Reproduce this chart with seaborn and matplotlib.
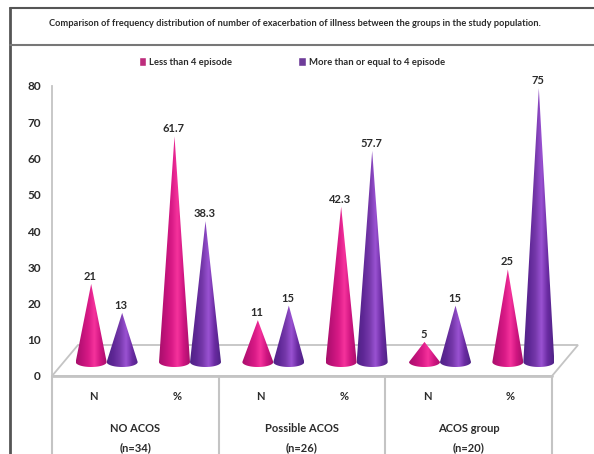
import numpy as np
import pandas as pd
import matplotlib
matplotlib.use('Agg')
import matplotlib.pyplot as plt
import seaborn as sns
from matplotlib.colors import LinearSegmentedColormap
from matplotlib.lines import Line2D
from matplotlib.patches import Polygon

title = 'Comparison of frequency distribution of number of exacerbation of illness between the groups in the study population.'
series_names = ['Less than 4 episode', 'More than or equal to 4 episode']
groups = ['NO ACOS\n(n=34)', 'Possible ACOS\n(n=26)', 'ACOS group\n(n=20)']
measures = ['N', '%', 'N', '%', 'N', '%']
less_than_4 = [21, 61.7, 11, 42.3, 5, 25]
four_or_more = [13, 38.3, 15, 57.7, 15, 75]

sns.set_style('white')
plt.rcParams['font.family'] = ['Lato', 'DejaVu Sans']
plt.rcParams['font.weight'] = 'bold'
text_color = '#2b2b2b'
line_color = '#c4c4c4'
W, H = 594, 454

# long table for seaborn, one row per cone
slots = [f'{i}{m}' for i, m in enumerate(measures)]
df = pd.DataFrame({
    'slot': slots * 2,
    'value': less_than_4 + four_or_more,
    'series': [series_names[0]] * 6 + [series_names[1]] * 6,
})

fig = plt.figure(figsize=(W / 100, H / 100), dpi=100)
ax = fig.add_axes([52 / W, 1 - 376 / H, 500 / W, 290 / H])
ax.patch.set_alpha(0)

sns.barplot(data=df, x='slot', y='value', hue='series', order=slots, hue_order=series_names,
            palette=['#d5147f', '#6f2da8'], width=0.744, gap=0, ax=ax)
ax.set_xlim(-0.5, 5.5)
ax.set_ylim(0, 80)
ax.set_xlabel('')
ax.set_ylabel('')

px_x = 6 / 500   # data units per pixel
px_y = 80 / 290

# floor of the 3d box
depth_x, depth_y = 26 * px_x, 31 * px_y
floor = Polygon([(-0.5, 0), (5.5, 0), (5.5 + depth_x, depth_y), (-0.5 + depth_x, depth_y)],
                facecolor='white', edgecolor=line_color, lw=1.3, clip_on=False, zorder=1)
ax.add_patch(floor)

# dividers under the axis
for x in [-0.5, 1.5, 3.5, 5.5]:
    ax.plot([x, x], [0, -78 * px_y], color=line_color, lw=1.5, clip_on=False, zorder=1)
ax.plot([-0.5, 5.5], [0, 0], color=line_color, lw=2, clip_on=False, zorder=2)

pink = LinearSegmentedColormap.from_list('pink', ['#a80f6c', '#c01279', '#d81a86', '#f5329c', '#cf1580', '#a80f6c'])
purple = LinearSegmentedColormap.from_list('purple', ['#4f2386', '#5f2796', '#7538aa', '#9a52d2', '#6a2ba2', '#4f2386'])
grad = np.linspace(0, 1, 64).reshape(1, -1)

base_dx = 13 * px_x
base_dy = 14 * px_y
semi_minor = 5 * px_y

bars = list(ax.patches)[:12]
cmaps = [pink] * 6 + [purple] * 6
for bar, cmap in sorted(zip(bars, cmaps), key=lambda b: b[0].get_x()):
    bar.set_visible(False)
    x0 = bar.get_x() + base_dx
    w = bar.get_width()
    val = bar.get_height()
    xc = x0 + w / 2
    t = np.linspace(0, np.pi, 40)
    arc = np.column_stack([xc + w / 2 * np.cos(t), base_dy - semi_minor * np.sin(t)])
    cone = Polygon(np.vstack([[xc, base_dy + val + 2 * px_y], arc]), transform=ax.transData,
                   facecolor='none', edgecolor='none')
    ax.add_patch(cone)
    im = ax.imshow(grad, cmap=cmap, aspect='auto', zorder=3,
                   extent=(x0, x0 + w, base_dy - semi_minor, base_dy + val + 2 * px_y))
    im.set_clip_box(fig.bbox)
    im.set_clip_path(cone)
    ax.text(xc - 1 * px_x, base_dy + val + 4 * px_y, f'{val:g}', ha='center', va='bottom',
            fontsize=8, color=text_color, zorder=5)

ax.set_xlim(-0.5, 5.5)
ax.set_ylim(0, 80)
ax.set_yticks(np.arange(0, 81, 10))
ax.set_xticks(range(6))
ax.set_xticklabels(measures)
ax.tick_params(axis='x', length=0, pad=11, labelsize=8, labelcolor=text_color)
ax.tick_params(axis='y', length=0, pad=8, labelsize=8.5, labelcolor=text_color)

sns.despine(ax=ax, bottom=True)
ax.spines['left'].set_color(line_color)
ax.spines['left'].set_linewidth(1.3)

for i, g in enumerate(groups):
    ax.annotate(g, xy=(2 * i + 0.5, 0), xytext=(0, -62 * 0.72), textcoords='offset points',
                ha='center', va='center', fontsize=8, color=text_color, linespacing=1.9,
                annotation_clip=False)

sns.move_legend(ax, 'center left', bbox_to_anchor=(130 / W, 1 - 62 / H), bbox_transform=fig.transFigure,
                ncol=2, frameon=False, title=None, fontsize=6.8, labelcolor=text_color,
                handlelength=0.75, handleheight=1.0, handletextpad=0.4, columnspacing=7.0)

# outer frame and title box
fig.add_artist(Line2D([10 / W, 10 / W], [0, 1 - 8 / H], color='#555555', lw=2))
fig.add_artist(Line2D([10 / W, 1], [1 - 8 / H, 1 - 8 / H], color='#555555', lw=1.5))
fig.add_artist(Line2D([10 / W, 1], [1 - 45 / H, 1 - 45 / H], color='#777777', lw=1.5))
fig.text(295 / W, 1 - 24 / H, title, ha='center', va='center', fontsize=6.7, color=text_color)

fig.savefig('out.png', dpi=100)
